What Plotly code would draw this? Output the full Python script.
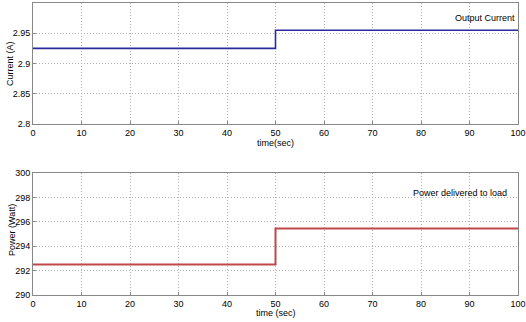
import plotly.graph_objects as go
from plotly.subplots import make_subplots

time = [0, 50, 50, 100]
current = [2.925, 2.925, 2.955, 2.955]
power = [292.5, 292.5, 295.45, 295.45]
x_ticks = [0, 10, 20, 30, 40, 50, 60, 70, 80, 90, 100]
current_ticks = [2.8, 2.85, 2.9, 2.95]
power_ticks = [290, 292, 294, 296, 298, 300]

W, H = 526, 322
ml, mr, mt, mb = 33, 8, 3, 27
ph = H - mt - mb

def py(y):
    return (H - mb - y) / ph

fig = make_subplots(rows=2, cols=1)
fig.add_trace(go.Scatter(x=time, y=current, mode="lines",
                         line=dict(color="#2a2a9c", width=1.6), showlegend=False), row=1, col=1)
fig.add_trace(go.Scatter(x=time, y=power, mode="lines",
                         line=dict(color="#c04848", width=2), showlegend=False), row=2, col=1)

font = dict(family="Liberation Sans, Arial, sans-serif", size=9, color="#000")
axcommon = dict(showline=True, linecolor="#888", linewidth=1, mirror=True,
                showgrid=True, gridcolor="#b0b0b0", griddash="1px,2px", gridwidth=1,
                zeroline=False, tickfont=font, ticks="inside", ticklen=3, tickcolor="#888",
                ticklabeloverflow="allow", automargin=False)

fig.update_xaxes(range=[0, 100], tickvals=x_ticks, **axcommon)
fig.update_yaxes(**axcommon)
fig.update_yaxes(range=[2.8, 3.0], tickvals=current_ticks,
                 ticktext=["2.8", "2.85", "2.9", "2.95"], row=1, col=1)
fig.update_yaxes(range=[290, 300], tickvals=power_ticks, row=2, col=1)

fig.update_layout(
    width=W, height=H,
    margin=dict(l=ml, r=mr, t=mt, b=mb),
    paper_bgcolor="white", plot_bgcolor="white",
    xaxis=dict(domain=[0, 1]),
    yaxis=dict(domain=[py(124), 1]),
    xaxis2=dict(domain=[0, 1]),
    yaxis2=dict(domain=[0, py(173)]),
)

ann_font = dict(family="Liberation Sans, Arial, sans-serif", size=9, color="#000")
fig.add_annotation(text="Output Current", xref="paper", yref="paper",
                   x=0.997, y=py(18), xanchor="right", yanchor="middle",
                   showarrow=False, font=ann_font)
fig.add_annotation(text="Power delivered to load", xref="paper", yref="paper",
                   x=0.982, y=py(193), xanchor="right", yanchor="middle",
                   showarrow=False, font=ann_font)
fig.add_annotation(text="time(sec)", xref="paper", yref="paper",
                   x=0.5, y=py(143), xanchor="center", yanchor="middle",
                   showarrow=False, font=ann_font)
fig.add_annotation(text="time (sec)", xref="paper", yref="paper",
                   x=0.5, y=py(313), xanchor="center", yanchor="middle",
                   showarrow=False, font=ann_font)
fig.add_annotation(text="Current (A)", xref="paper", yref="paper",
                   x=(10 - ml) / (W - ml - mr), y=py(64), xanchor="center", yanchor="middle",
                   textangle=-90, showarrow=False, font=ann_font)
fig.add_annotation(text="Power (Watt)", xref="paper", yref="paper",
                   x=(12 - ml) / (W - ml - mr), y=py(230), xanchor="center", yanchor="middle",
                   textangle=-90, showarrow=False, font=ann_font)

fig.write_html("out.html", config={"displayModeBar": False},
               post_script="document.body.style.margin='0';document.body.style.overflow='hidden';")
